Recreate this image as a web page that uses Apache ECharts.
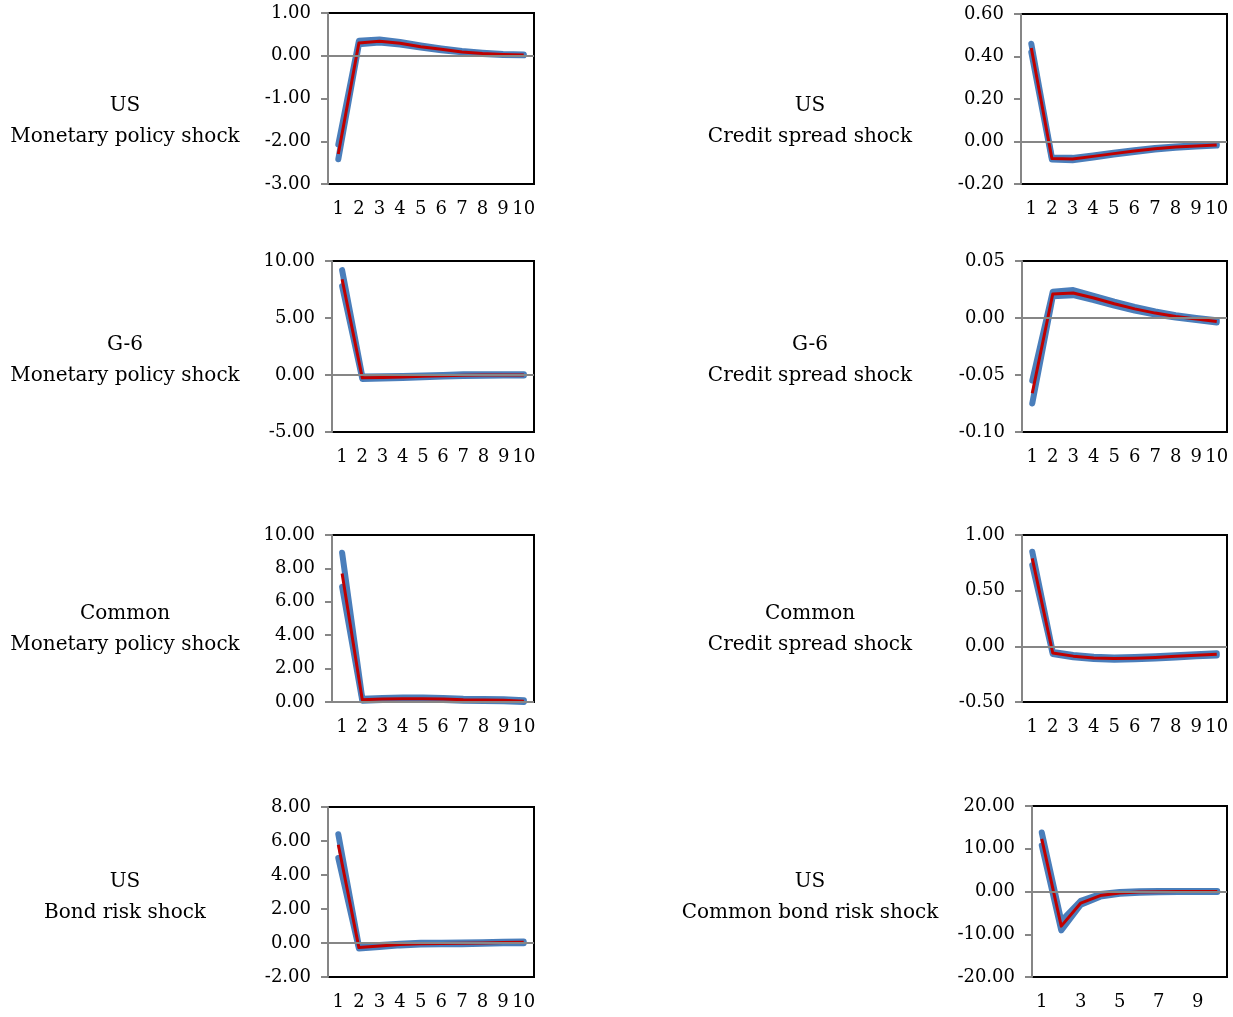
<!DOCTYPE html>
<html><head><meta charset="utf-8">
<script src="https://cdn.jsdelivr.net/npm/echarts@6/dist/echarts.min.js"></script>
<style>html,body{margin:0;padding:0;background:#fff}#c{width:1233px;height:1017px}</style>
</head><body><div id="c"></div>
<script>
const periods = ['1','2','3','4','5','6','7','8','9','10'];

// Panel titles (two lines each)
const panelNames = [
  ['US', 'Monetary policy shock'],
  ['US', 'Credit spread shock'],
  ['G-6', 'Monetary policy shock'],
  ['G-6', 'Credit spread shock'],
  ['Common', 'Monetary policy shock'],
  ['Common', 'Credit spread shock'],
  ['US', 'Bond risk shock'],
  ['US', 'Common bond risk shock']
];

// US monetary policy shock
const usMpPoint = [-2.30, 0.30, 0.34, 0.29, 0.21, 0.15, 0.09, 0.05, 0.03, 0.02];
const usMpUpper = [-2.08, 0.35, 0.38, 0.32, 0.24, 0.17, 0.11, 0.07, 0.04, 0.03];
const usMpLower = [-2.42, 0.27, 0.31, 0.26, 0.19, 0.13, 0.08, 0.04, 0.02, 0.01];

// US credit spread shock
const usCsPoint = [0.44, -0.080, -0.082, -0.070, -0.057, -0.045, -0.034, -0.026, -0.021, -0.016];
const usCsUpper = [0.46, -0.075, -0.077, -0.066, -0.053, -0.041, -0.031, -0.023, -0.018, -0.013];
const usCsLower = [0.42, -0.085, -0.088, -0.075, -0.061, -0.049, -0.038, -0.029, -0.024, -0.019];

// G-6 monetary policy shock
const g6MpPoint = [8.4, -0.25, -0.22, -0.18, -0.12, -0.07, -0.02, 0.00, 0.01, 0.01];
const g6MpUpper = [9.2, -0.14, -0.12, -0.09, -0.04, 0.01, 0.06, 0.07, 0.07, 0.07];
const g6MpLower = [7.8, -0.34, -0.31, -0.26, -0.19, -0.14, -0.08, -0.06, -0.05, -0.05];

// G-6 credit spread shock
const g6CsPoint = [-0.066, 0.021, 0.022, 0.0175, 0.0125, 0.008, 0.0043, 0.0014, -0.0008, -0.003];
const g6CsUpper = [-0.055, 0.023, 0.0245, 0.0195, 0.0143, 0.0097, 0.0057, 0.0025, 0.0001, -0.002];
const g6CsLower = [-0.075, 0.019, 0.020, 0.0157, 0.0108, 0.0065, 0.0031, 0.0004, -0.0017, -0.004];

// Common monetary policy shock
const cmMpPoint = [7.7, 0.14, 0.18, 0.20, 0.20, 0.18, 0.13, 0.12, 0.11, 0.04];
const cmMpUpper = [8.94, 0.20, 0.24, 0.27, 0.27, 0.24, 0.19, 0.18, 0.17, 0.10];
const cmMpLower = [6.9, 0.08, 0.12, 0.14, 0.14, 0.12, 0.07, 0.06, 0.05, 0.00];

// Common credit spread shock
const cmCsPoint = [0.79, -0.060, -0.088, -0.104, -0.110, -0.106, -0.100, -0.090, -0.080, -0.072];
const cmCsUpper = [0.85, -0.050, -0.078, -0.094, -0.100, -0.096, -0.090, -0.080, -0.070, -0.062];
const cmCsLower = [0.73, -0.070, -0.098, -0.114, -0.120, -0.116, -0.110, -0.100, -0.090, -0.082];

// US bond risk shock
const usBrPoint = [5.78, -0.27, -0.18, -0.09, -0.04, -0.03, -0.02, 0.00, 0.03, 0.04];
const usBrUpper = [6.40, -0.20, -0.12, -0.04, 0.01, 0.02, 0.03, 0.05, 0.08, 0.09];
const usBrLower = [5.00, -0.33, -0.24, -0.14, -0.09, -0.08, -0.07, -0.05, -0.02, -0.01];

// US common bond risk shock
const usCbPoint = [12.3, -8.1, -2.7, -0.95, -0.35, -0.12, -0.03, 0.0, 0.0, 0.0];
const usCbUpper = [13.8, -6.9, -2.2, -0.60, -0.10, 0.05, 0.10, 0.10, 0.10, 0.10];
const usCbLower = [10.8, -9.1, -3.1, -1.20, -0.55, -0.30, -0.15, -0.10, -0.10, -0.10];

// Y-axis ranges: [min, max, interval]
const yRanges = [
  [-3, 1, 1], [-0.2, 0.6, 0.2],
  [-5, 10, 5], [-0.10, 0.05, 0.05],
  [0, 10, 2], [-0.5, 1, 0.5],
  [-2, 8, 2], [-20, 20, 10]
];

const panels = [
  [usMpPoint, usMpUpper, usMpLower],
  [usCsPoint, usCsUpper, usCsLower],
  [g6MpPoint, g6MpUpper, g6MpLower],
  [g6CsPoint, g6CsUpper, g6CsLower],
  [cmMpPoint, cmMpUpper, cmMpLower],
  [cmCsPoint, cmCsUpper, cmCsLower],
  [usBrPoint, usBrUpper, usBrLower],
  [usCbPoint, usCbUpper, usCbLower]
];

// layout
const gridBoxes = [
  {left: 328, top: 13, width: 206, height: 171},
  {left: 1021, top: 14, width: 206, height: 170},
  {left: 332, top: 261, width: 202, height: 171},
  {left: 1022, top: 261, width: 205, height: 171},
  {left: 332, top: 535, width: 202, height: 167},
  {left: 1022, top: 535, width: 205, height: 167},
  {left: 328, top: 807, width: 206, height: 170},
  {left: 1032, top: 806, width: 195, height: 171}
];
const labelPos = [
  [125, 106], [810, 106],
  [125, 345], [810, 345],
  [125, 614], [810, 614],
  [125, 882], [810, 882]
];

const FONT = 'DejaVu Serif';
const grid = [], xAxis = [], yAxis = [], series = [], graphic = [];

panels.forEach((p, i) => {
  const g = gridBoxes[i];
  grid.push(Object.assign({show: true, borderColor: '#000', borderWidth: 2, backgroundColor: '#fff'}, g));
  const everyOther = (i === 7);
  xAxis.push({
    type: 'category', gridIndex: i, data: periods, boundaryGap: true, position: 'bottom',
    axisLine: {show: false, onZero: false}, axisTick: {show: false},
    axisLabel: {color: '#000', fontFamily: FONT, fontSize: 18, margin: 16, interval: everyOther ? 1 : 0}
  });
  const r = yRanges[i];
  yAxis.push({
    type: 'value', gridIndex: i, min: r[0], max: r[1], interval: r[2],
    splitLine: {show: false},
    axisLine: {show: true, onZero: false, lineStyle: {color: '#868686', width: 2}},
    axisTick: {show: true, length: 7, lineStyle: {color: '#868686', width: 2}},
    axisLabel: {color: '#000', fontFamily: FONT, fontSize: 18, margin: 17,
      formatter: v => (Math.abs(v) < 1e-9 ? 0 : v).toFixed(2)}
  });
  // zero line
  series.push({
    type: 'line', xAxisIndex: i, yAxisIndex: i, data: [], z: 1, silent: true,
    markLine: {silent: true, symbol: 'none', label: {show: false},
      lineStyle: {color: '#868686', width: 2, type: 'solid'}, data: [{yAxis: 0}]}
  });
  [p[1], p[2]].forEach(d => series.push({
    type: 'line', xAxisIndex: i, yAxisIndex: i, data: d, z: 2, symbol: 'none', silent: true,
    lineStyle: {color: '#4A7EBB', width: 6, cap: 'round', join: 'round'}
  }));
  series.push({
    type: 'line', xAxisIndex: i, yAxisIndex: i, data: p[0], z: 3, symbol: 'none', silent: true,
    lineStyle: {color: '#C00000', width: 3, cap: 'butt', join: 'round'}
  });
  const lp = labelPos[i];
  panelNames[i].forEach((t, k) => graphic.push({
    type: 'text', x: lp[0], y: lp[1] + k * 31,
    style: {text: t, fill: '#000', font: '20px "' + FONT + '"', textAlign: 'center', textVerticalAlign: 'middle'}
  }));
});

const chart = echarts.init(document.getElementById('c'), null, {renderer: 'canvas'});
chart.setOption({animation: false, backgroundColor: '#fff', grid, xAxis, yAxis, series, graphic});
</script>
</body></html>
